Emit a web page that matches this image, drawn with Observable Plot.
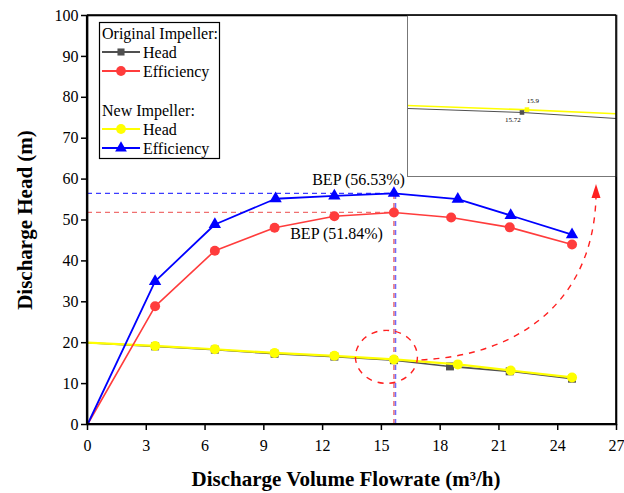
<!DOCTYPE html>
<html>
<head>
<meta charset="utf-8">
<script src="https://cdn.jsdelivr.net/npm/d3@7"></script>
<script src="https://cdn.jsdelivr.net/npm/@observablehq/plot@0.6"></script>
<style>
  body { margin: 0; background: #fff; }
  #wrap { position: relative; width: 624px; height: 493px; font-family: "Liberation Serif", "Times New Roman", serif; }
  #wrap svg { overflow: visible; }
  #inset { position: absolute; left: 407px; top: 15px; }
  #legend { position: absolute; left: 0; top: 0; pointer-events: none; }
</style>
</head>
<body>
<div id="wrap"></div>
<script>
// ---- data ----
const flowOrigHead = [0, 3.45, 6.5, 9.55, 12.6, 15.64, 18.5, 21.55, 24.73];
const origHead     = [20, 19.1, 18.3, 17.3, 16.6, 15.72, 14.2, 13.0, 11.2];
const flowNewHead  = [0, 3.45, 6.5, 9.55, 12.6, 15.64, 18.9, 21.6, 24.73];
const newHead      = [20, 19.2, 18.4, 17.5, 16.8, 15.9, 14.7, 13.2, 11.5];
const flowOrigEff  = [0, 3.45, 6.5, 9.55, 12.6, 15.64, 18.56, 21.55, 24.73];
const origEff      = [0, 28.9, 42.5, 48.1, 50.9, 51.84, 50.6, 48.2, 44.0];
const flowNewEff   = [0, 3.45, 6.5, 9.6, 12.6, 15.64, 18.9, 21.6, 24.73];
const newEff       = [0, 35.0, 48.9, 55.2, 55.9, 56.53, 55.1, 51.1, 46.4];
const bepFlow = 15.64;
const bepOrig = 51.84;
const bepNew = 56.53;
const bepLabels = ["BEP (56.53%)", "BEP (51.84%)"];
const insetLabels = ["15.9", "15.72"];
const xTicks = [0, 3, 6, 9, 12, 15, 18, 21, 24, 27];
const yTicks = [0, 10, 20, 30, 40, 50, 60, 70, 80, 90, 100];
const xTitle = "Discharge Volume Flowrate (m³/h)";
const yTitle = "Discharge Head (m)";

const C = { gray: "#505050", red: "#ff3c3c", yellow: "#ffff00", blue: "#0000ff", redDash: "#f07070", blueDash: "#3c3cff" };
const SERIF = "'Liberation Serif', 'Times New Roman', serif";

const zip = (xs, ys) => xs.map((x, i) => ({ x, y: ys[i] }));
const oh = zip(flowOrigHead, origHead);
const nh = zip(flowNewHead, newHead);
const oe = zip(flowOrigEff, origEff);
const ne = zip(flowNewEff, newEff);
const noZero = d => d.slice(1);

const chart = Plot.plot({
  width: 624, height: 493,
  marginLeft: 87, marginRight: 8, marginTop: 15, marginBottom: 69,
  style: { fontFamily: SERIF, fontSize: "16px", color: "#000", background: "#fff" },
  x: { domain: [0, 27] },
  y: { domain: [0, 100] },
  marks: [
    // BEP reference lines
    Plot.ruleY([bepOrig], { x1: 0, x2: bepFlow, stroke: C.redDash, strokeDasharray: "5,4", strokeWidth: 1.2 }),
    Plot.ruleY([bepNew], { x1: 0, x2: bepFlow, stroke: C.blueDash, strokeDasharray: "5,4", strokeWidth: 1.2 }),
    Plot.ruleX([bepFlow], { y1: 0, y2: bepNew, stroke: C.redDash, strokeDasharray: "5,4", strokeWidth: 1.5 }),
    Plot.ruleX([bepFlow], { y1: 0, y2: bepNew, stroke: C.blueDash, strokeDasharray: "5,4", strokeWidth: 1.5, dx: 1.6, strokeOpacity: 0.75 }),
    // Head curves
    Plot.line(oh, { x: "x", y: "y", stroke: C.gray, strokeWidth: 1.6 }),
    Plot.dot(noZero(oh), { x: "x", y: "y", symbol: "square", r: 4.5, fill: C.gray }),
    Plot.line(nh, { x: "x", y: "y", stroke: C.yellow, strokeWidth: 2.2 }),
    Plot.dot(noZero(nh), { x: "x", y: "y", r: 5, fill: C.yellow }),
    // Efficiency curves
    Plot.line(oe, { x: "x", y: "y", stroke: C.red, strokeWidth: 1.6 }),
    Plot.dot(noZero(oe), { x: "x", y: "y", r: 5, fill: C.red }),
    Plot.line(ne, { x: "x", y: "y", stroke: C.blue, strokeWidth: 1.8 }),
    Plot.dot(noZero(ne), { x: "x", y: "y", symbol: "triangle", r: 4.6, fill: C.blue }),
    // BEP labels
    Plot.text([bepLabels[0]], { x: bepFlow, y: bepNew, text: d => d, textAnchor: "end", dx: 11, dy: -13, fontSize: 16, fill: "#000" }),
    Plot.text([bepLabels[1]], { x: bepFlow, y: bepOrig, text: d => d, textAnchor: "end", dx: -11, dy: 21, fontSize: 16, fill: "#000" }),
    // frame & axes
    Plot.frame({ stroke: "#000", strokeWidth: 1.6 }),
    Plot.axisX({ ticks: xTicks, tickSize: 6, tickPadding: 9, label: null, fontSize: 16, strokeWidth: 1.5, fontFamily: SERIF }),
    Plot.axisY({ ticks: yTicks, tickSize: 6, tickPadding: 3, label: null, fontSize: 16, strokeWidth: 1.5, fontFamily: SERIF }),
    Plot.text([yTitle], { frameAnchor: "left", textAnchor: "middle", dx: -62, rotate: -90, text: d => d, fontSize: 21, fontWeight: "bold", fill: "#000", fontFamily: SERIF }),
    Plot.text([xTitle], { frameAnchor: "bottom", textAnchor: "middle", dy: 55, dx: -6, text: d => d, fontSize: 21, fontWeight: "bold", fill: "#000", lineAnchor: "middle", fontFamily: SERIF })
  ]
});

const wrap = document.getElementById("wrap");
wrap.appendChild(chart);

const sx = chart.scale("x"), sy = chart.scale("y");
const svg = d3.select(chart);
const ann = svg.append("g");
// thicker left & bottom axis lines
ann.append("line").attr("x1", sx.apply(0)).attr("x2", sx.apply(0)).attr("y1", sy.apply(0)).attr("y2", sy.apply(100)).attr("stroke", "#000").attr("stroke-width", 2.2);
ann.append("line").attr("x1", sx.apply(0)).attr("x2", sx.apply(27)).attr("y1", sy.apply(0)).attr("y2", sy.apply(0)).attr("stroke", "#000").attr("stroke-width", 2.2);

// dashed ellipse around BEP on head curves
const cx = sx.apply(bepFlow) - 7, cy = sy.apply((origHead[5] + newHead[5]) / 2 + 0.6);
ann.append("ellipse").attr("cx", cx).attr("cy", cy).attr("rx", 31).attr("ry", 26.5)
  .attr("fill", "none").attr("stroke", "#ff2020").attr("stroke-width", 1.4).attr("stroke-dasharray", "6,6");
// curved dashed arrow to inset
const x0 = cx + 35, y0 = cy + 3;
const x1 = sx.apply(25.98), y1 = sy.apply(55.5);
ann.append("path")
  .attr("d", `M${x0},${y0} C${x0 + 100},${y0 - 5} ${x1 - 3},${y0 - 60} ${x1},${y1}`)
  .attr("fill", "none").attr("stroke", "#ff2020").attr("stroke-width", 1.4).attr("stroke-dasharray", "6,6");
ann.append("path")
  .attr("d", `M${x1 - 4.5},${y1 + 1} L${x1 + 4.5},${y1 + 1} L${x1},${y1 - 13} Z`)
  .attr("fill", "#ff2020");

// inset zoom of head curves near BEP
const inset = Plot.plot({
  width: 209, height: 161,
  margin: 0,
  x: { domain: [14.78, 16.35], axis: null },
  y: { domain: [11.72, 21.78], axis: null },
  style: { background: "#fff", fontFamily: SERIF },
  marks: [
    Plot.line(oh, { x: "x", y: "y", stroke: C.gray, strokeWidth: 1, clip: true }),
    Plot.line(nh, { x: "x", y: "y", stroke: C.yellow, strokeWidth: 1.6, clip: true }),
    Plot.dot([oh[5]], { x: "x", y: "y", symbol: "square", r: 2.6, fill: C.gray }),
    Plot.dot([nh[5]], { x: "x", y: "y", symbol: "square", r: 2.6, fill: C.yellow, dx: 5 }),
    Plot.text([nh[5]], { x: "x", y: "y", text: () => insetLabels[0], dx: 11, dy: -9, fontSize: 7, fill: "#000" }),
    Plot.text([oh[5]], { x: "x", y: "y", text: () => insetLabels[1], dx: -9, dy: 7, fontSize: 7, fill: "#000" }),
    Plot.frame({ stroke: "#777", strokeWidth: 1 })
  ]
});
inset.id = "inset";
wrap.appendChild(inset);
// redraw main right/top frame edge over inset
const edge = d3.select(wrap).append("svg").attr("id", "legend").attr("width", 624).attr("height", 493);
edge.append("line").attr("x1", sx.apply(27)).attr("x2", sx.apply(27)).attr("y1", sy.apply(0)).attr("y2", sy.apply(100)).attr("stroke", "#000").attr("stroke-width", 1.6);
edge.append("line").attr("x1", sx.apply(0)).attr("x2", sx.apply(27)).attr("y1", sy.apply(100)).attr("y2", sy.apply(100)).attr("stroke", "#000").attr("stroke-width", 1.6);

// legend
const lg = edge.append("g").attr("font-family", SERIF).attr("font-size", 16);
lg.append("rect").attr("x", 99.5).attr("y", 22.5).attr("width", 120).attr("height", 136).attr("fill", "#fff").attr("stroke", "#000").attr("stroke-width", 1.2);
const rows = [
  { t: "Original Impeller:", y: 33, head: true },
  { t: "Head", y: 52, c: C.gray, sym: "square" },
  { t: "Efficiency", y: 71, c: C.red, sym: "circle" },
  { t: "New Impeller:", y: 110, head: true },
  { t: "Head", y: 129, c: C.yellow, sym: "circle" },
  { t: "Efficiency", y: 148, c: C.blue, sym: "triangle" }
];
rows.forEach(r => {
  if (r.head) {
    lg.append("text").attr("x", 102).attr("y", r.y).attr("dy", "0.35em").text(r.t);
  } else {
    lg.append("line").attr("x1", 102).attr("x2", 140).attr("y1", r.y).attr("y2", r.y).attr("stroke", r.c).attr("stroke-width", 1.8);
    const sym = r.sym === "square" ? d3.symbolSquare : r.sym === "triangle" ? d3.symbolTriangle : d3.symbolCircle;
    const size = r.sym === "square" ? 50 : r.sym === "triangle" ? 60 : 75;
    lg.append("path").attr("d", d3.symbol(sym, size)()).attr("transform", `translate(121,${r.y})`).attr("fill", r.c);
    lg.append("text").attr("x", 143).attr("y", r.y).attr("dy", "0.35em").text(r.t);
  }
});
</script>
</body>
</html>
